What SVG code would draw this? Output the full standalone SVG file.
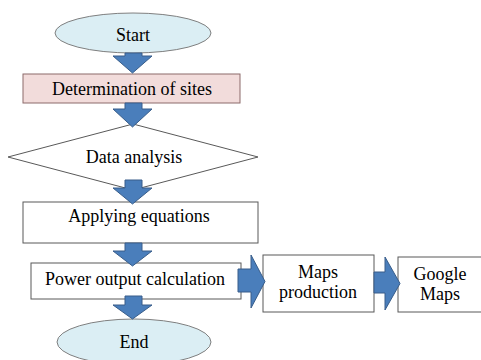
<svg xmlns="http://www.w3.org/2000/svg" width="481" height="360" viewBox="0 0 481 360">
<style>
text{font-family:"Liberation Serif","Times New Roman",serif;font-size:18px;fill:#000;text-anchor:middle}
.ell{fill:#dbeef4;stroke:#7f7f7f;stroke-width:1}
.box{fill:#fff;stroke:#595959;stroke-width:1}
.pink{fill:#f2dcdb;stroke:#8c6b6b;stroke-width:1}
.arr{fill:#4a7ebb;stroke:#385d8a;stroke-width:1}
</style>
<rect width="481" height="360" fill="#fff"/>
<g id="start"><ellipse class="ell" cx="133" cy="33" rx="78" ry="20"/><text x="133" y="41">Start</text></g>
<g id="sites"><rect class="pink" x="23" y="74" width="217" height="29"/><text x="132" y="95">Determination of sites</text></g>
<g id="analysis"><polygon class="box" points="8,157 133,124 258,157 133,190"/><text x="134" y="163">Data analysis</text></g>
<g id="equations"><rect class="box" x="23" y="202" width="235" height="41"/><text x="139" y="222">Applying equations</text></g>
<g id="power"><rect class="box" x="31" y="263" width="210" height="36"/><text x="135" y="285">Power output calculation</text></g>
<g id="end"><ellipse class="ell" cx="134" cy="342" rx="77" ry="23"/><text x="134" y="348">End</text></g>
<g id="maps"><rect class="box" x="263" y="255" width="111" height="57"/><text x="318" y="278">Maps</text><text x="318" y="298">production</text></g>
<g id="google"><rect class="box" x="398" y="257" width="90" height="55"/><text x="440" y="280">Google</text><text x="440" y="300">Maps</text></g>
<g id="connectors">
<polygon class="arr" points="125,53 142,53 142,56 152,56 132.5,73 113,56 125,56"/>
<polygon class="arr" points="125,103 142,103 142,109 152,109 132.5,127 113,109 125,109"/>
<polygon class="arr" points="125,180 142,180 142,188 152,188 132.5,204 113,188 125,188"/>
<polygon class="arr" points="125,243 142,243 142,251 152,251 132.5,266 113,251 125,251"/>
<polygon class="arr" points="125,296 142,296 142,305 152,305 132.5,319 113,305 125,305"/>
<polygon class="arr" points="238,269 251,269 251,255 265,281.5 251,308 251,292 238,292"/>
<polygon class="arr" points="374,272 385,272 385,257 400,283.5 385,310 385,293 374,293"/>
</g>
</svg>
